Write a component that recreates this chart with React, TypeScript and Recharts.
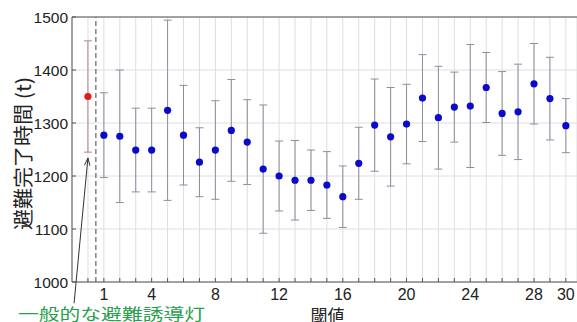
import {
  CartesianGrid,
  ErrorBar,
  ReferenceLine,
  Scatter,
  ScatterChart,
  XAxis,
  YAxis,
} from "recharts";

// 閾値ごとの避難完了時間（平均と誤差）
const thresholds = [
  1, 2, 3, 4, 5, 6, 7, 8, 9, 10, 11, 12, 13, 14, 15, 16, 17, 18, 19, 20, 21,
  22, 23, 24, 25, 26, 27, 28, 29, 30,
];
const meanTimes = [
  1277, 1275, 1249, 1249, 1324, 1277, 1226, 1249, 1286, 1264, 1213, 1200, 1192,
  1192, 1183, 1161, 1224, 1296, 1274, 1298, 1347, 1310, 1330, 1332, 1367, 1318,
  1321, 1374, 1346, 1295,
];
const errTimes = [
  80, 125, 79, 79, 170, 94, 65, 93, 96, 80, 121, 66, 75, 57, 63, 58, 68, 87, 93,
  75, 82, 97, 66, 116, 66, 79, 90, 76, 78, 51,
];

// 一般的な避難誘導灯
const baselineX = 0;
const baselineMean = 1350;
const baselineErr = 105;

const xLabels = [1, 4, 8, 12, 16, 20, 24, 28, 30];
const yTicks = [1000, 1100, 1200, 1300, 1400, 1500];

const W = 577;
const H = 322;
const FONT = "'Liberation Sans', 'Noto Sans CJK JP', sans-serif";
const JP = "'Noto Sans CJK JP', sans-serif";

const thresholdData = thresholds.map((t, i) => ({
  x: t,
  y: meanTimes[i],
  err: errTimes[i],
}));
const baselineData = [{ x: baselineX, y: baselineMean, err: baselineErr }];
const xTicks = [baselineX, ...thresholds];

const Dot = (color: string) => (p: any) =>
  <circle cx={p.cx} cy={p.cy} r={3.6} fill={color} />;

const Arrow = (p: any) => {
  const { x1, y1, x2, y2 } = p;
  const a = Math.atan2(y2 - y1, x2 - x1);
  const L = 8;
  const w = 0.35;
  const h1 = `${x2 - L * Math.cos(a - w)},${y2 - L * Math.sin(a - w)}`;
  const h2 = `${x2 - L * Math.cos(a + w)},${y2 - L * Math.sin(a + w)}`;
  return (
    <g stroke="#333" strokeWidth={1} fill="none">
      <line x1={x1} y1={y1} x2={x2} y2={y2} />
      <polyline points={`${h1} ${x2},${y2} ${h2}`} />
    </g>
  );
};

export default function App() {
  return (
    <div style={{ position: "absolute", left: 0, top: 0, width: W, height: H, background: "#fff" }}>
      <ScatterChart
        width={W}
        height={H}
        margin={{ top: 17, right: 0, bottom: 0, left: 0 }}
      >
        <CartesianGrid stroke="#dedede" strokeWidth={1} />
        <XAxis
          type="number"
          dataKey="x"
          domain={[-1, 30.7]}
          ticks={xTicks}
          interval={0}
          height={40}
          stroke="#555"
          tickSize={-4}
          tickMargin={11}
          tickFormatter={(v: number) => (xLabels.includes(v) ? String(v) : "")}
          tick={{ fontSize: 16, fill: "#222", fontFamily: FONT }}
          label={{
            content: (props: any) => {
              const vb = props.viewBox;
              return (
                <text
                  x={vb.x + vb.width / 2 + 3}
                  y={vb.y + 32}
                  textAnchor="middle"
                  dominantBaseline="central"
                  fontSize={17}
                  fill="#222"
                  fontFamily={JP}
                >
                  閾値
                </text>
              );
            },
          }}
        />
        <YAxis
          type="number"
          dataKey="y"
          domain={[1000, 1500]}
          ticks={yTicks}
          width={72}
          stroke="#555"
          tickSize={-4}
          tickMargin={8}
          tick={{ fontSize: 15.5, fill: "#222", fontFamily: FONT }}
          label={{
            content: (props: any) => {
              const vb = props.viewBox;
              const cx = vb.x + 22;
              const cy = vb.y + vb.height / 2 + 4;
              return (
                <text
                  x={cx}
                  y={cy}
                  transform={`rotate(-90 ${cx} ${cy})`}
                  textAnchor="middle"
                  dominantBaseline="central"
                  fontSize={20}
                  textLength={153}
                  lengthAdjust="spacingAndGlyphs"
                  fill="#222"
                  fontFamily={JP}
                >
                  避難完了時間 (t)
                </text>
              );
            },
          }}
        />
        <ReferenceLine y={1500} stroke="#555" />
        <ReferenceLine x={0.5} stroke="#444" strokeDasharray="5 3" />
        <Scatter
          data={baselineData}
          isAnimationActive={false}
          shape={Dot("#e41a1a")}
        >
          <ErrorBar
            dataKey="err"
            direction="y"
            width={4}
            stroke="#b08585"
            strokeWidth={1}
            isAnimationActive={false}
          />
        </Scatter>
        <Scatter
          data={thresholdData}
          isAnimationActive={false}
          shape={Dot("#0a0ac8")}
        >
          <ErrorBar
            dataKey="err"
            direction="y"
            width={4}
            stroke="#8c8ea0"
            strokeWidth={1}
            isAnimationActive={false}
          />
        </Scatter>
        <ReferenceLine
          segment={[
            { x: -0.87, y: 960 },
            { x: 0, y: 1234 },
          ]}
          ifOverflow="visible"
          shape={Arrow}
        />
      </ScatterChart>
      <svg
        width={W}
        height={H}
        style={{ position: "absolute", left: 0, top: 0, pointerEvents: "none" }}
      >
        <text
          x={18}
          y={313}
          dominantBaseline="central"
          fontSize={16}
          textLength={187}
          lengthAdjust="spacingAndGlyphs"
          fill="#27a04c"
          fontFamily={JP}
        >
          一般的な避難誘導灯
        </text>
      </svg>
    </div>
  );
}
